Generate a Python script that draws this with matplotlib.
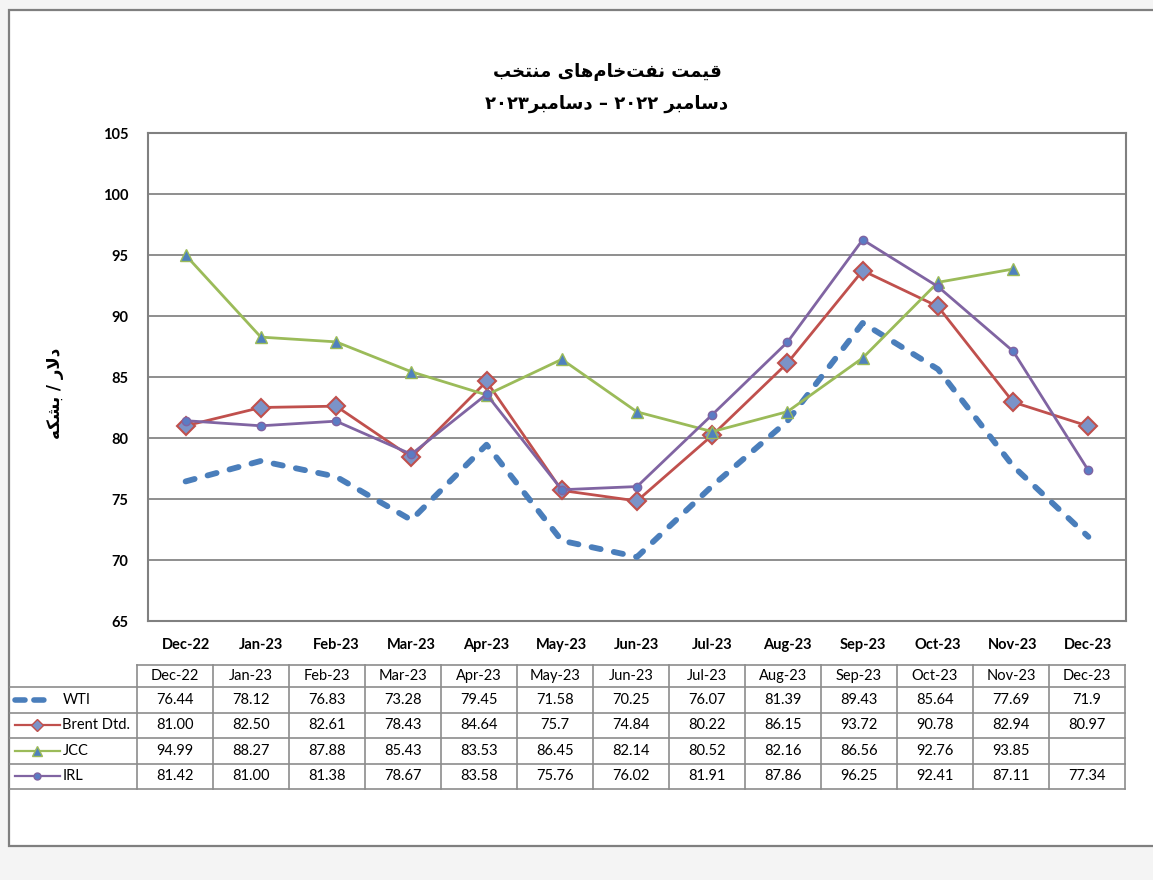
import matplotlib
matplotlib.use("Agg")
import matplotlib.pyplot as plt
from matplotlib.patches import Rectangle
from matplotlib.lines import Line2D

months = ["Dec-22", "Jan-23", "Feb-23", "Mar-23", "Apr-23", "May-23", "Jun-23",
          "Jul-23", "Aug-23", "Sep-23", "Oct-23", "Nov-23", "Dec-23"]

# values as printed in the table
wti = ["76.44", "78.12", "76.83", "73.28", "79.45", "71.58", "70.25",
       "76.07", "81.39", "89.43", "85.64", "77.69", "71.9"]
brent = ["81.00", "82.50", "82.61", "78.43", "84.64", "75.7", "74.84",
         "80.22", "86.15", "93.72", "90.78", "82.94", "80.97"]
jcc = ["94.99", "88.27", "87.88", "85.43", "83.53", "86.45", "82.14",
       "80.52", "82.16", "86.56", "92.76", "93.85", ""]
irl = ["81.42", "81.00", "81.38", "78.67", "83.58", "75.76", "76.02",
       "81.91", "87.86", "96.25", "92.41", "87.11", "77.34"]

series_names = ["WTI", "Brent Dtd.", "JCC", "IRL"]
yticks = [65, 70, 75, 80, 85, 90, 95, 100, 105]

title1 = "قیمت نفت\u200cخام\u200cهای منتخب"
title2 = "دسامبر ۲۰۲۲ – دسامبر۲۰۲۳"
ylabel = "دلار / بشکه"

# --- tiny arabic/persian shaper (matplotlib 3.10 does no shaping) ---
FORMS = {
    "ا": (0xFE8D, 0xFE8E, None, None),
    "ب": (0xFE8F, 0xFE90, 0xFE91, 0xFE92),
    "ت": (0xFE95, 0xFE96, 0xFE97, 0xFE98),
    "خ": (0xFEA5, 0xFEA6, 0xFEA7, 0xFEA8),
    "د": (0xFEA9, 0xFEAA, None, None),
    "ر": (0xFEAD, 0xFEAE, None, None),
    "س": (0xFEB1, 0xFEB2, 0xFEB3, 0xFEB4),
    "ش": (0xFEB5, 0xFEB6, 0xFEB7, 0xFEB8),
    "ف": (0xFED1, 0xFED2, 0xFED3, 0xFED4),
    "ق": (0xFED5, 0xFED6, 0xFED7, 0xFED8),
    "ل": (0xFEDD, 0xFEDE, 0xFEDF, 0xFEE0),
    "م": (0xFEE1, 0xFEE2, 0xFEE3, 0xFEE4),
    "ن": (0xFEE5, 0xFEE6, 0xFEE7, 0xFEE8),
    "ه": (0xFEE9, 0xFEEA, 0xFEEB, 0xFEEC),
    "ی": (0xFBFC, 0xFBFD, 0xFBFE, 0xFBFF),
    "ک": (0xFB8E, 0xFB8F, 0xFB90, 0xFB91),
}


def dual(c):
    return c in FORMS and FORMS[c][2] is not None


def shape(text):
    out = []
    i = 0
    n = len(text)
    while i < n:
        c = text[i]
        if c not in FORMS:
            out.append(c)
            i += 1
            continue
        prev_j = i > 0 and dual(text[i - 1])
        if c == "ل" and i + 1 < n and text[i + 1] == "ا":
            out.append(chr(0xFEFC if prev_j else 0xFEFB))
            i += 2
            continue
        next_j = dual(c) and i + 1 < n and text[i + 1] in FORMS
        iso, fin, ini, med = FORMS[c]
        if prev_j and next_j:
            out.append(chr(med))
        elif prev_j:
            out.append(chr(fin))
        elif next_j:
            out.append(chr(ini))
        else:
            out.append(chr(iso))
        i += 1
    s = "".join(out).replace("\u200c", "")
    # visual order: reverse, but keep digit runs left to right
    s = s[::-1]
    res, run = "", ""
    for ch in s:
        if ch.isdigit():
            run += ch
        else:
            res += run[::-1] + ch
            run = ""
    return res + run[::-1]


W, H = 1153, 880
fig = plt.figure(figsize=(W / 100, H / 100), dpi=100, facecolor="#f4f4f4")
fig.patches.append(Rectangle((9 / W, 1 - 846 / H), (W - 9) / W + 0.01, (846 - 10) / H,
                             transform=fig.transFigure, facecolor="white",
                             edgecolor="#7f7f7f", linewidth=1.6, zorder=-10))

latin = "Lato"
ax = fig.add_axes([148 / W, 1 - 621 / H, (1126 - 148) / W, (621 - 133) / H])
ax.patch.set_alpha(0)
x = list(range(len(months)))


def nums(vals):
    return [float(v) if v else float("nan") for v in vals]


ax.plot(x, nums(wti), color="#4a7ebb", linewidth=4.2, dashes=(1.6, 2.3),
        dash_capstyle="round", solid_joinstyle="round", zorder=3)
ax.plot(x, nums(brent), color="#c0504d", linewidth=2, marker="D", markersize=9,
        markerfacecolor="#7b93c8", markeredgecolor="#c0504d", markeredgewidth=1.5, zorder=4)
ax.plot(x, nums(jcc), color="#9bbb59", linewidth=2, marker="^", markersize=9,
        markerfacecolor="#4f81bd", markeredgecolor="#9bbb59", markeredgewidth=1, zorder=4)
ax.plot(x, nums(irl), color="#8064a2", linewidth=2, marker="o", markersize=6,
        markerfacecolor="#5b7cc4", markeredgecolor="#8064a2", markeredgewidth=1, zorder=4)

ax.set_xlim(-0.5, 12.5)
ax.set_ylim(65, 105)
ax.set_yticks(yticks)
ax.set_xticks(x)
ax.set_xticklabels(months)
ax.yaxis.grid(True, color="#868686", linewidth=1.3)
ax.set_axisbelow(True)
for sp in ax.spines.values():
    sp.set_color("#808080")
    sp.set_linewidth(1.5)
ax.tick_params(length=0, labelsize=10.5)
ax.tick_params(axis="y", pad=14)
ax.tick_params(axis="x", pad=12)
for lab in ax.get_xticklabels() + ax.get_yticklabels():
    lab.set_fontfamily(latin)
    lab.set_fontweight("bold")

fig.text(607 / W, 1 - 72 / H, shape(title1), ha="center", va="center",
         fontsize=13, fontweight="bold", family="DejaVu Sans")
fig.text(607 / W, 1 - 104 / H, shape(title2), ha="center", va="center",
         fontsize=13, fontweight="bold", family="DejaVu Sans")
fig.text(55 / W, 1 - 393 / H, shape(ylabel), ha="center", va="center", rotation=90,
         fontsize=12, fontweight="bold", family="DejaVu Sans")

# --- data table ---
tx0, tx1, ty0, ty1 = 10, 1125, 665, 789
col_w = (1125 - 137) / 13
head_cols = (137 - 10) / col_w
tab = fig.add_axes([tx0 / W, 1 - ty1 / H, (tx1 - tx0) / W, (ty1 - ty0) / H])
tab.set_xlim(-head_cols, 13)
row_edges = [0, 22, 47.5, 73, 98.5, 124]
tab.set_ylim(124, 0)
tab.axis("off")
lc = "#8c8c8c"
# horizontal lines
tab.plot([0, 13], [0, 0], color=lc, lw=1.2, clip_on=False)
for r in row_edges[1:]:
    tab.plot([-head_cols, 13], [r, r], color=lc, lw=1.2, clip_on=False)
# vertical lines
for c in range(14):
    tab.plot([c, c], [0, 124], color=lc, lw=1.2, clip_on=False)

for c, m in enumerate(months):
    tab.text(c + 0.5, 11, m, ha="center", va="center", fontsize=10.5, family=latin)

rows = [wti, brent, jcc, irl]
styles = [
    dict(color="#4a7ebb", lw=4, dashes=(1.8, 1.6), dash_capstyle="round"),
    dict(color="#c0504d", lw=1.6, marker="D", ms=6.5, mfc="#7b93c8", mec="#c0504d"),
    dict(color="#9bbb59", lw=1.6, marker="^", ms=7, mfc="#4f81bd", mec="#9bbb59"),
    dict(color="#8064a2", lw=1.6, marker="o", ms=5, mfc="#5b7cc4", mec="#8064a2"),
]
key_ends = [0.5, 0.66, 0.66, 0.66]
for i, (vals, name, st) in enumerate(zip(rows, series_names, styles)):
    yc = (row_edges[i + 1] + row_edges[i + 2]) / 2
    kx = [-head_cols + 0.06, -head_cols + key_ends[i]]
    st = dict(st)
    mk = {k: st.pop(k) for k in ("marker", "ms", "mfc", "mec") if k in st}
    tab.add_line(Line2D(kx, [yc, yc], clip_on=False, **st))
    if mk:
        tab.add_line(Line2D([(kx[0] + kx[1]) / 2], [yc], linestyle="None",
                            marker=mk["marker"], ms=mk["ms"], mfc=mk["mfc"],
                            mec=mk["mec"], clip_on=False))
    tab.text(-head_cols + 0.69, yc, name, ha="left", va="center", fontsize=10.5, family=latin)
    for c, v in enumerate(vals):
        tab.text(c + 0.5, yc, v, ha="center", va="center", fontsize=10.5, family=latin)

fig.savefig("out.png", dpi=100, facecolor=fig.get_facecolor())
